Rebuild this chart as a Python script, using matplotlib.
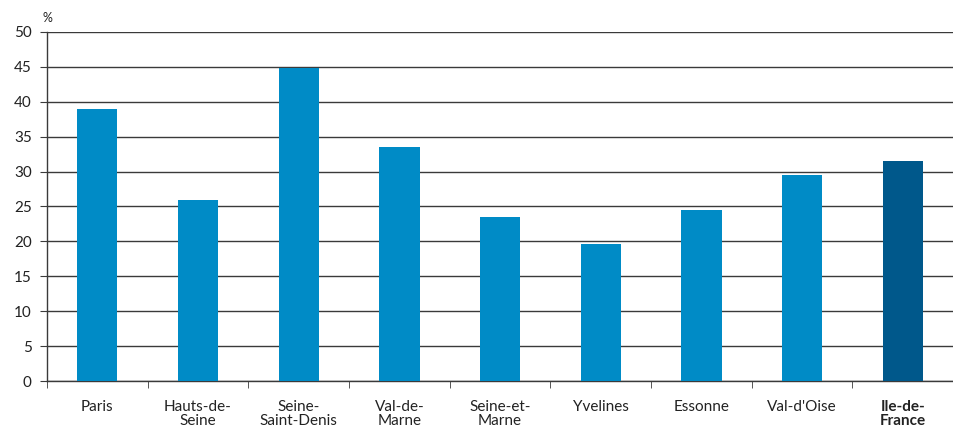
import numpy as np
import matplotlib.pyplot as plt

plt.rcParams['font.family'] = ['Lato', 'DejaVu Sans']

departements = ['Paris', 'Hauts-de-\nSeine', 'Seine-\nSaint-Denis', 'Val-de-\nMarne',
                'Seine-et-\nMarne', 'Yvelines', 'Essonne', "Val-d'Oise", 'Ile-de-\nFrance']
valeurs = [39.0, 26.0, 44.8, 33.5, 23.5, 19.6, 24.5, 29.5, 31.5]
couleurs = ['#008bc6'] * 8 + ['#00588b']

fig = plt.figure(figsize=(9.54, 4.26), dpi=100)
ax = fig.add_axes([0.0493, 0.1056, 0.9497, 0.8194])

x = np.arange(len(departements))
ax.bar(x, valeurs, width=0.4, color=couleurs, zorder=3)

ax.set_ylim(0, 50)
ax.set_xlim(-0.5, len(departements) - 0.5)
ax.set_yticks(np.arange(0, 51, 5))
ax.yaxis.grid(True, color='#3a3a3a', linewidth=1, zorder=0)
ax.set_axisbelow(True)

ax.set_xticks(x)
ax.set_xticklabels(departements, fontsize=11, color='#222222', linespacing=0.95)
ax.get_xticklabels()[-1].set_fontweight('bold')
ax.set_xticks(np.arange(-0.5, len(departements)), minor=True)
ax.tick_params(axis='x', which='major', length=0, pad=14)
ax.tick_params(axis='x', which='minor', length=5, color='#3a3a3a', direction='out')
ax.tick_params(axis='y', length=5, color='#3a3a3a', labelsize=11, labelcolor='#222222', pad=6)

for side in ['top', 'right']:
    ax.spines[side].set_visible(False)
for side in ['left', 'bottom']:
    ax.spines[side].set_color('#3a3a3a')
    ax.spines[side].set_linewidth(1)

ax.text(-0.5, 51.2, '%', fontsize=9, color='#222222', ha='center', va='bottom')

fig.savefig('out.png', dpi=100)
